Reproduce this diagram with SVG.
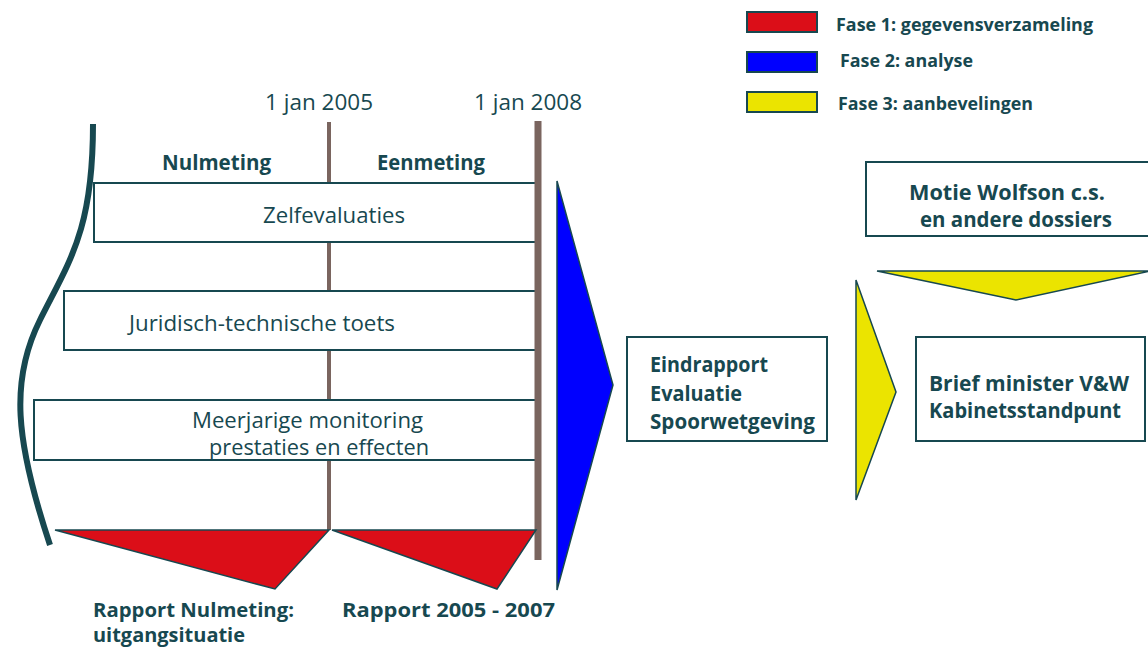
<svg xmlns="http://www.w3.org/2000/svg" width="1148" height="650" viewBox="0 0 1148 650">
<style>
text{font-family:"Open Sans","Noto Sans","Liberation Sans",sans-serif;fill:#174850}
.b{font-weight:bold;font-size:21px}
.s{font-weight:bold;font-size:19px}
.r{font-size:21px;font-weight:500}
.lg{font-weight:bold;font-size:17px}
.box{fill:#fff;stroke:#174850;stroke-width:2}
.tri{stroke:#174850;stroke-width:1.5;stroke-linejoin:miter}
.red{fill:#db0e18}.blue{fill:#0000ff}.yel{fill:#ebe400}
.vl{stroke:#7a655f}
</style>
<rect width="1148" height="650" fill="#fff"/>
<g id="legend">
<rect x="747" y="12" width="70" height="20" class="red" stroke="#174850" stroke-width="2"/>
<rect x="747" y="52" width="70" height="20" class="blue" stroke="#174850" stroke-width="2"/>
<rect x="747" y="92" width="70" height="20" class="yel" stroke="#174850" stroke-width="2"/>
<text class="lg" x="836" y="31" textLength="257" lengthAdjust="spacingAndGlyphs">Fase 1: gegevensverzameling</text>
<text class="lg" x="840" y="67" textLength="133" lengthAdjust="spacingAndGlyphs">Fase 2: analyse</text>
<text class="lg" x="838" y="110" textLength="195" lengthAdjust="spacingAndGlyphs">Fase 3: aanbevelingen</text>
</g>
<g id="timeline">
<text class="r" x="265" y="110" textLength="108" lengthAdjust="spacingAndGlyphs">1 jan 2005</text>
<text class="r" x="474" y="110" textLength="108" lengthAdjust="spacingAndGlyphs">1 jan 2008</text>
<text class="b" x="162" y="170" textLength="109" lengthAdjust="spacingAndGlyphs">Nulmeting</text>
<text class="b" x="377" y="170" textLength="108" lengthAdjust="spacingAndGlyphs">Eenmeting</text>
<path d="M93,124 C93,230 70,260 40,320 C10,380 15,440 50,545" fill="none" stroke="#174850" stroke-width="6"/>
<line class="vl" x1="329" y1="122" x2="329" y2="530" stroke-width="4"/>
</g>
<g id="zelfevaluaties">
<rect class="box" x="94" y="183" width="444" height="59"/>
<text class="r" x="263" y="223" textLength="142" lengthAdjust="spacingAndGlyphs">Zelfevaluaties</text>
</g>
<g id="juridisch">
<rect class="box" x="64" y="291" width="474" height="59"/>
<text class="r" x="129" y="331" textLength="266" lengthAdjust="spacingAndGlyphs">Juridisch-technische toets</text>
</g>
<g id="monitoring">
<rect class="box" x="34" y="400" width="504" height="60"/>
<text class="r" x="192" y="428" textLength="231" lengthAdjust="spacingAndGlyphs">Meerjarige monitoring</text>
<text class="r" x="209" y="455" textLength="220" lengthAdjust="spacingAndGlyphs">prestaties en effecten</text>
</g>
<g id="line2008">
<line class="vl" x1="538" y1="121" x2="538" y2="560" stroke-width="7"/>
</g>
<g id="rapporten">
<polygon class="tri red" points="55,530 329,530 275,589"/>
<polygon class="tri red" points="332,530 536,530 497,589"/>
<text class="s" x="93" y="617" textLength="201" lengthAdjust="spacingAndGlyphs">Rapport Nulmeting:</text>
<text class="s" x="93" y="642" textLength="152" lengthAdjust="spacingAndGlyphs">uitgangsituatie</text>
<text class="s" x="342" y="617" textLength="213" lengthAdjust="spacingAndGlyphs">Rapport 2005 - 2007</text>
</g>
<g id="analyse">
<polygon class="tri blue" points="557,181 613,385 557,590"/>
</g>
<g id="eindrapport">
<rect class="box" x="627" y="337" width="200" height="104"/>
<text class="b" x="650" y="372" textLength="118" lengthAdjust="spacingAndGlyphs">Eindrapport</text>
<text class="b" x="650" y="401" textLength="92" lengthAdjust="spacingAndGlyphs">Evaluatie</text>
<text class="b" x="650" y="429" textLength="165" lengthAdjust="spacingAndGlyphs">Spoorwetgeving</text>
</g>
<g id="aanbeveling">
<polygon class="tri yel" points="856,280 896,392 856,500"/>
<polygon class="tri yel" points="877,271 1150,271 1016,300"/>
</g>
<g id="motie">
<rect class="box" x="866" y="162" width="290" height="74"/>
<text class="b" x="909" y="200" textLength="196" lengthAdjust="spacingAndGlyphs">Motie Wolfson c.s.</text>
<text class="b" x="920" y="227" textLength="192" lengthAdjust="spacingAndGlyphs">en andere dossiers</text>
</g>
<g id="brief">
<rect class="box" x="916" y="337" width="229" height="104"/>
<text class="b" x="929" y="391" textLength="200" lengthAdjust="spacingAndGlyphs">Brief minister V&amp;W</text>
<text class="b" x="929" y="418" textLength="192" lengthAdjust="spacingAndGlyphs">Kabinetsstandpunt</text>
</g>
</svg>
